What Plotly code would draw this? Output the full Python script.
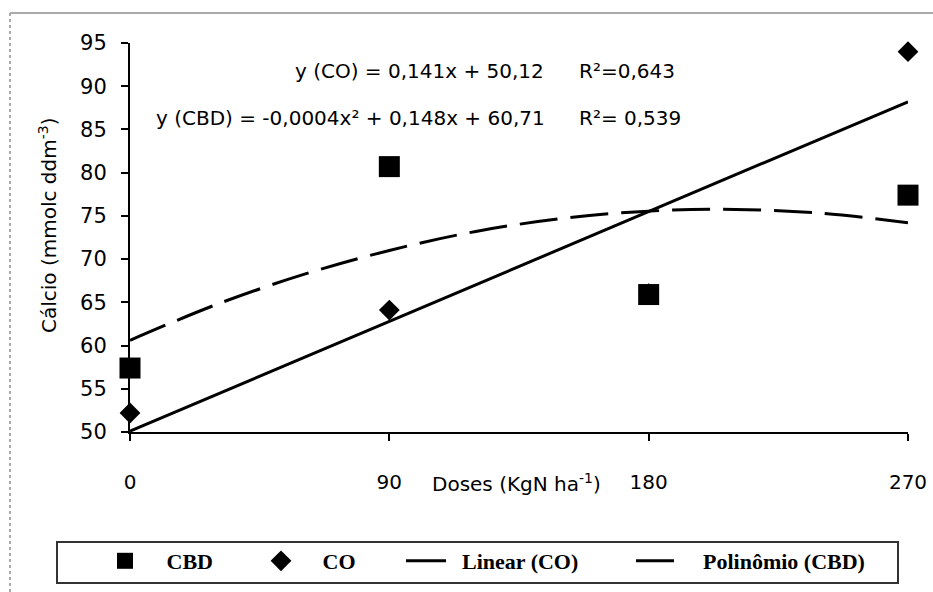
import plotly.graph_objects as go

# ---- data ----
doses = [0, 90, 180, 270]
cbd = [57.4, 80.7, 65.9, 77.4]
co = [52.2, 64.1, 66.0, 94.0]

# trend lines
lin_x = [0, 270]
lin_y = [50.1, 88.2]
poly_x = [0, 30, 60, 90, 120, 150, 180, 210, 240, 270]
poly_y = [60.6, 64.75, 68.2, 71.0, 73.2, 74.7, 75.55, 75.75, 75.3, 74.2]

x_ticks = [0, 90, 180, 270]
y_ticks = [50, 55, 60, 65, 70, 75, 80, 85, 90, 95]

series_names = ["CBD", "CO", "Linear (CO)", "Polinômio (CBD)"]

eq_co = "y (CO) = 0,141x + 50,12"
r2_co = "R²=0,643"
eq_cbd = "y (CBD) = -0,0004x² + 0,148x + 60,71"
r2_cbd = "R²= 0,539"

FONT = "DejaVu Sans"
LFONT = "Liberation Serif"
NB = "\u00a0"

W, H = 933, 592
L, R, T, B = 130, 25, 43, 160
pw, ph = W - L - R, H - T - B

def px(xp):
    return (xp - L) / pw

def py(yp):
    return (T + ph - yp) / ph

# legend placement: (left px, leading spaces)
leg_pos = [(100, 3), (256, 3), (401, 2), (631, 4)]
leg_keys = ["legend", "legend2", "legend3", "legend4"]

fig = go.Figure()
fig.add_trace(go.Scatter(x=doses, y=cbd, mode="markers", name=NB * leg_pos[0][1] + series_names[0],
                         legend=leg_keys[0],
                         marker=dict(symbol="square", size=21, color="black"),
                         cliponaxis=False))
fig.add_trace(go.Scatter(x=doses, y=co, mode="markers", name=NB * leg_pos[1][1] + series_names[1],
                         legend=leg_keys[1],
                         marker=dict(symbol="diamond", size=16, color="black"),
                         cliponaxis=False))
fig.add_trace(go.Scatter(x=lin_x, y=lin_y, mode="lines", name=NB * leg_pos[2][1] + series_names[2],
                         legend=leg_keys[2],
                         line=dict(color="black", width=3)))
fig.add_trace(go.Scatter(x=poly_x, y=poly_y, mode="lines", name=NB * leg_pos[3][1] + series_names[3],
                         legend=leg_keys[3],
                         line=dict(color="black", width=3, dash="38px,13px", shape="spline")))

legend_common = dict(orientation="h", yanchor="top", xanchor="left", y=py(540),
                     borderwidth=0, bgcolor="rgba(0,0,0,0)",
                     font=dict(family=LFONT, size=22, color="black", weight="bold"),
                     itemwidth=40)

fig.update_layout(
    width=W, height=H,
    margin=dict(l=L, r=R, t=T, b=B, autoexpand=False),
    paper_bgcolor="white", plot_bgcolor="white",
    font=dict(family=FONT, color="black", size=20),
    showlegend=True,
    xaxis=dict(range=[0, 270], tickvals=x_ticks, ticktext=[str(v) for v in x_ticks],
               showgrid=False, zeroline=False, showline=True, linecolor="black", linewidth=2,
               ticks="outside", ticklen=7, tickwidth=2, tickcolor="black", automargin=False,
               ticklabelstandoff=24, tickfont=dict(family=FONT, size=20)),
    yaxis=dict(range=[50, 95], tickvals=y_ticks, ticktext=[str(v) for v in y_ticks],
               showgrid=False, zeroline=False, showline=True, linecolor="black", linewidth=2,
               ticks="outside", ticklen=7, tickwidth=2, tickcolor="black", automargin=False,
               ticklabelstandoff=10, tickfont=dict(family=FONT, size=21)),
)
for key, (lx, _) in zip(leg_keys, leg_pos):
    fig.update_layout({key: dict(legend_common, x=px(lx))})

ann = [
    dict(text=eq_co, x=px(546), y=py(71), xanchor="right", yanchor="middle"),
    dict(text=r2_co, x=px(577), y=py(71), xanchor="left", yanchor="middle"),
    dict(text=eq_cbd, x=px(547), y=py(118), xanchor="right", yanchor="middle"),
    dict(text=r2_cbd, x=px(577), y=py(118), xanchor="left", yanchor="middle"),
    dict(text="Doses (KgN ha<sup>-1</sup>)", x=px(516), y=py(483), xanchor="center", yanchor="middle"),
    dict(text="Cálcio (mmolc ddm<sup>-3</sup>)", x=px(48), y=py(225), xanchor="center",
         yanchor="middle", textangle=-90),
]
for a in ann:
    fig.add_annotation(xref="paper", yref="paper", showarrow=False,
                       font=dict(family=FONT, size=20, color="black"), **a)

# legend frame
fig.add_shape(type="rect", xref="paper", yref="paper", x0=px(57), x1=px(898), y0=py(542), y1=py(583),
              line=dict(color="#333333", width=2), layer="below")
# outer frame lines (light gray)
fig.add_shape(type="line", xref="paper", yref="paper", x0=px(10), x1=px(933), y0=py(13), y1=py(13),
              line=dict(color="#aaaaaa", width=2), layer="below")
fig.add_shape(type="line", xref="paper", yref="paper", x0=px(10), x1=px(10), y0=py(13), y1=py(592),
              line=dict(color="#aaaaaa", width=2, dash="dot"), layer="below")

fig.write_html("out.html", config={"displayModeBar": False},
               post_script="document.body.style.margin='0';document.body.style.overflow='hidden';")
